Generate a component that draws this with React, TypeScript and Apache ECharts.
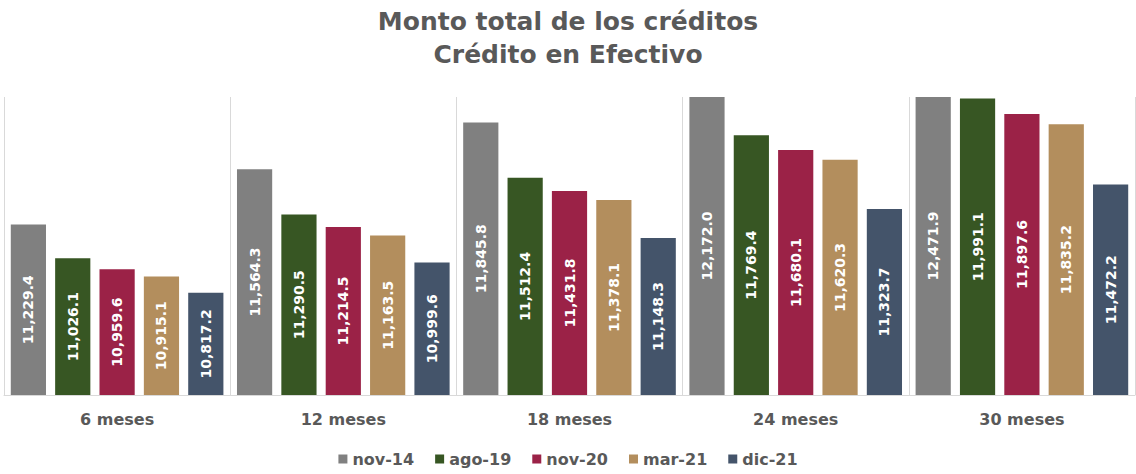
import React, { useEffect, useRef } from "react";
import * as echarts from "echarts";

const categories = ["6 meses", "12 meses", "18 meses", "24 meses", "30 meses"];
const seriesNames = ["nov-14", "ago-19", "nov-20", "mar-21", "dic-21"];
const nov14 = [11229.4, 11564.3, 11845.8, 12172.0, 12471.9];
const ago19 = [11026.1, 11290.5, 11512.4, 11769.4, 11991.1];
const nov20 = [10959.6, 11214.5, 11431.8, 11680.1, 11897.6];
const mar21 = [10915.1, 11163.5, 11378.1, 11620.3, 11835.2];
const dic21 = [10817.2, 10999.6, 11148.3, 11323.7, 11472.2];
const colors = ["#808080", "#375623", "#9B2247", "#B38E5D", "#44546A"];

const FONT = "'DejaVu Sans', sans-serif";

export default function App() {
  const ref = useRef<HTMLDivElement>(null);
  useEffect(() => {
    if (!ref.current) return;
    const chart = echarts.init(ref.current, null, { renderer: "svg" });
    const all = [nov14, ago19, nov20, mar21, dic21];
    chart.setOption({
      animation: false,
      color: colors,
      title: {
        text: "Monto total de los créditos\nCrédito en Efectivo",
        left: "center",
        top: 0,
        textStyle: {
          fontFamily: FONT,
          fontSize: 25,
          fontWeight: "bold",
          color: "#595959",
          lineHeight: 33,
        },
      },
      legend: {
        bottom: 2,
        left: "center",
        icon: "rect",
        itemWidth: 9,
        itemHeight: 9,
        itemGap: 21,
        textStyle: { fontFamily: FONT, fontSize: 16, fontWeight: "bold", color: "#595959" },
        data: seriesNames,
      },
      grid: { left: 4, right: 1, top: 97, bottom: 79, containLabel: false },
      xAxis: {
        type: "category",
        data: categories,
        axisLine: { lineStyle: { color: "#d9d9d9", width: 1 } },
        axisTick: { show: false },
        splitLine: { show: true, lineStyle: { color: "#d9d9d9", width: 1 } },
        axisLabel: {
          fontFamily: FONT,
          fontSize: 16,
          fontWeight: "bold",
          color: "#595959",
          margin: 16,
        },
      },
      yAxis: {
        type: "value",
        min: 10200,
        max: 12000,
        show: false,
        splitLine: { show: false },
      },
      series: all.map((d, i) => ({
        name: seriesNames[i],
        type: "bar",
        data: d,
        barGap: "26%",
        barCategoryGap: "6%",
        clip: true,
        label: {
          show: true,
          position: "inside",
          rotate: 90,
          color: "#ffffff",
          fontFamily: FONT,
          fontSize: 14,
          fontWeight: "bold",
          formatter: (p: any) =>
            Number(p.value).toLocaleString("en-US", { minimumFractionDigits: 1, maximumFractionDigits: 1 }),
        },
      })),
    });
    return () => chart.dispose();
  }, []);
  return (
    <div
      ref={ref}
      style={{ position: "fixed", left: 0, top: 0, width: 1136, height: 474, background: "#fff" }}
    />
  );
}
